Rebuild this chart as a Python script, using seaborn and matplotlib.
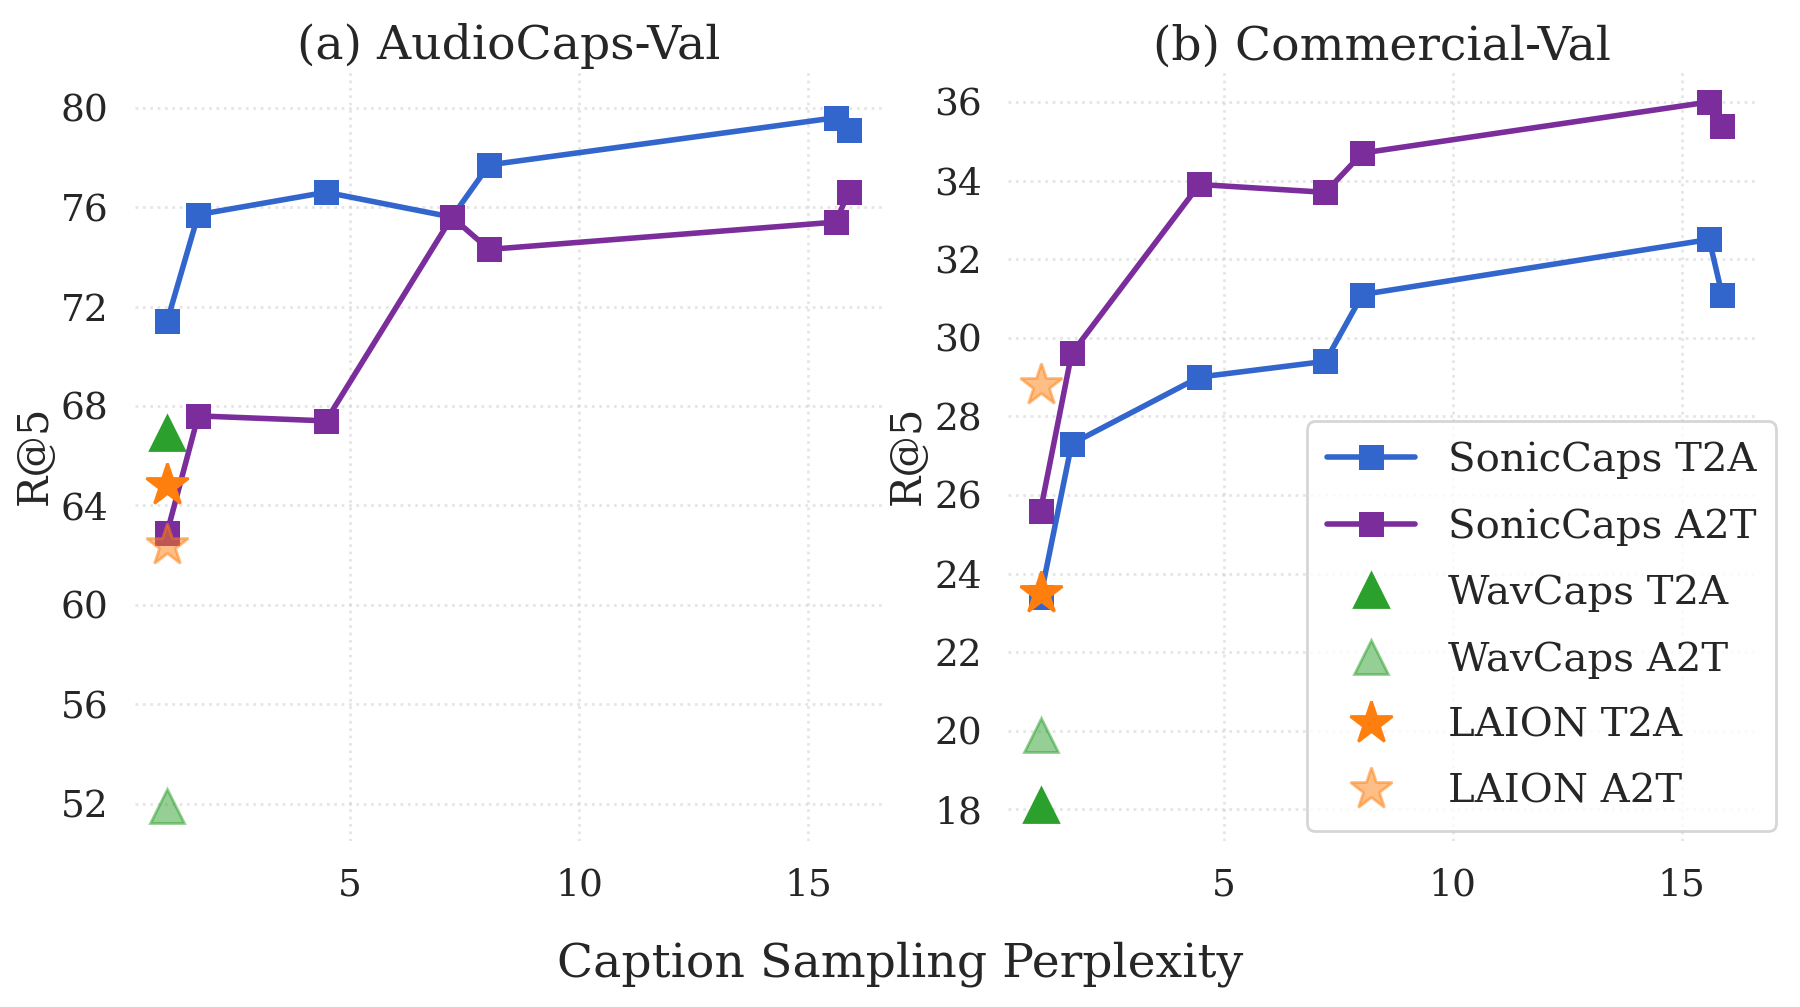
import matplotlib
matplotlib.use("Agg")
import matplotlib.pyplot as plt
import seaborn as sns
import pandas as pd

# perplexity values (x)
ppl = [1.0, 1.68, 4.47, 7.22, 8.03, 15.6, 15.88]

# (a) AudioCaps-Val
ac_sonic_t2a = [71.4, 75.7, 76.6, 75.6, 77.7, 79.6, 79.1]
ac_sonic_a2t = [62.9, 67.6, 67.4, 75.6, 74.3, 75.4, 76.6]
ac_wav = {"T2A": 66.9, "A2T": 51.9}
ac_laion = {"T2A": 64.8, "A2T": 62.4}

# (b) Commercial-Val
cm_sonic_t2a = [23.4, 27.3, 29.0, 29.4, 31.1, 32.5, 31.1]
cm_sonic_a2t = [25.6, 29.6, 33.9, 33.7, 34.7, 36.0, 35.4]
cm_wav = {"T2A": 18.1, "A2T": 19.9}
cm_laion = {"T2A": 23.5, "A2T": 28.8}

sns.set_theme(style="whitegrid")
plt.rcParams['font.family'] = ['DejaVu Serif']

blue = "#3366cc"
purple = "#7b2d9b"
green = "#2ca02c"
orange = "#ff7f0e"

fig, axes = plt.subplots(1, 2, figsize=(9, 5.035), dpi=200)

panels = [
    (axes[0], "(a) AudioCaps-Val", ac_sonic_t2a, ac_sonic_a2t, ac_wav, ac_laion,
     (50.5, 81.5), [52, 56, 60, 64, 68, 72, 76, 80]),
    (axes[1], "(b) Commercial-Val", cm_sonic_t2a, cm_sonic_a2t, cm_wav, cm_laion,
     (17.2, 36.8), [18, 20, 22, 24, 26, 28, 30, 32, 34, 36]),
]

for ax, title, t2a, a2t, wav, laion, ylim, yticks in panels:
    df = pd.DataFrame({"ppl": ppl, "t2a": t2a, "a2t": a2t})
    sns.lineplot(data=df, x="ppl", y="t2a", ax=ax, color=blue, marker="s",
                 markersize=9, markeredgewidth=0, lw=2, label="SonicCaps T2A", sort=False)
    sns.lineplot(data=df, x="ppl", y="a2t", ax=ax, color=purple, marker="s",
                 markersize=9, markeredgewidth=0, lw=2, label="SonicCaps A2T", sort=False)
    ax.plot([1.0], [wav["T2A"]], linestyle="none", marker="^", color=green,
            markersize=12, label="WavCaps T2A")
    ax.plot([1.0], [wav["A2T"]], linestyle="none", marker="^", color=green, alpha=0.5,
            markersize=12, label="WavCaps A2T")
    ax.plot([1.0], [laion["T2A"]], linestyle="none", marker="*", color=orange,
            markersize=16, label="LAION T2A")
    ax.plot([1.0], [laion["A2T"]], linestyle="none", marker="*", color=orange, alpha=0.5,
            markersize=16, label="LAION A2T")
    ax.set_title(title, fontsize=17, pad=4)
    ax.set_xlim(0.3, 16.6)
    ax.set_ylim(*ylim)
    ax.set_xticks([5, 10, 15])
    ax.set_yticks(yticks)
    ax.tick_params(labelsize=13.5)
    ax.set_xlabel("")
    ax.set_ylabel("R@5", fontsize=15, labelpad=2)
    ax.grid(True, linestyle=":", alpha=0.5)
    for s in ax.spines.values():
        s.set_visible(False)
    ax.get_legend().remove()

handles, labels = axes[1].get_legend_handles_labels()
fig.legend(handles, labels, loc="lower right", bbox_to_anchor=(0.998, 0.155),
           fontsize=14.5, frameon=True, handlelength=2.2, borderpad=0.5,
           labelspacing=0.72)

fig.supxlabel("Caption Sampling Perplexity", fontsize=17, y=0.02)
fig.subplots_adjust(left=0.075, right=0.975, top=0.93, bottom=0.165, wspace=0.17)
fig.savefig("out.png", dpi=200)
